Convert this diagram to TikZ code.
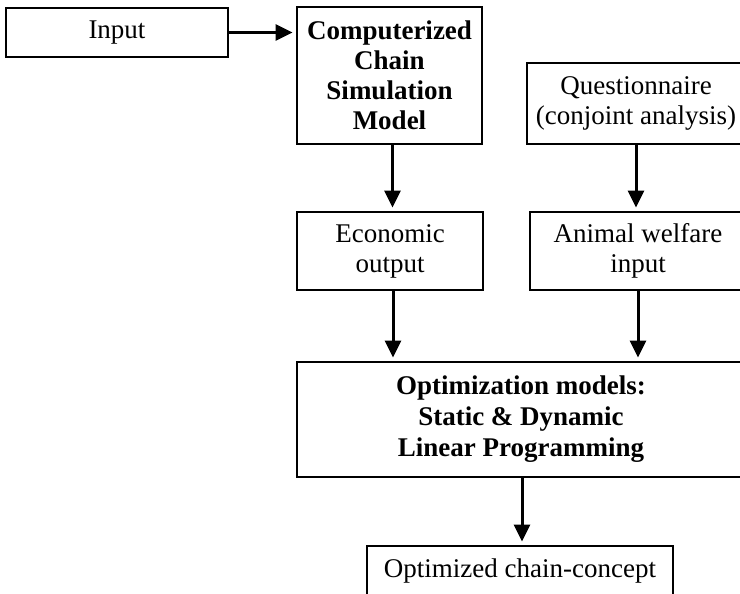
\documentclass[tikz,border=0pt]{standalone}
\usepackage{fontspec}
\setmainfont{Liberation Serif}
\usetikzlibrary{arrows.meta}
\begin{document}
\begin{tikzpicture}[x=1pt,y=-1pt,
  box/.style={draw, line width=1.8pt, inner sep=0pt, align=center, font=\fontsize{27}{30}\selectfont},
  flow/.style={line width=3pt, shorten >=3.5pt, -{Triangle[length=17pt,width=16pt]}}]
\useasboundingbox (0,0) rectangle (740,594);
\clip (0,0) rectangle (740,594);
\node[box, minimum width=222pt, minimum height=49pt] (input) at (117,32.5) {Input};
\node[box, minimum width=185pt, minimum height=137pt, font=\fontsize{27}{30}\selectfont\bfseries] (comp) at (389.5,75.5) {Computerized\\Chain\\Simulation\\Model};
\node[box, minimum width=218pt, minimum height=81pt] (quest) at (636,103.5) {Questionnaire\\(conjoint analysis)};
\node[box, minimum width=186pt, minimum height=78pt] (econ) at (390,251) {Economic\\output};
\node[box, minimum width=216pt, minimum height=78pt] (animal) at (638,251) {Animal welfare\\input};
\node[box, minimum width=448pt, minimum height=115pt, font=\fontsize{27}{31}\selectfont\bfseries] (opt) at (521,419.5) {Optimization models:\\Static \& Dynamic\\Linear Programming};
\node[box, minimum width=306pt, minimum height=64pt, text height=0pt, text depth=0pt, anchor=north] (last) at (520,545) {Optimized chain-concept};
\draw[flow] (input.east) -- (input.east -| comp.west);
\draw[flow] ([xshift=3pt]comp.south) -- ([xshift=3pt]comp.south |- econ.north);
\draw[flow] (quest.south) -- (quest.south |- animal.north);
\draw[flow] ([xshift=3pt]econ.south) -- ([xshift=3pt]econ.south |- opt.north);
\draw[flow] (animal.south) -- (animal.south |- opt.north);
\draw[flow] ([xshift=1pt]opt.south) -- ([xshift=1pt]opt.south |- last.north);
\end{tikzpicture}
\end{document}
